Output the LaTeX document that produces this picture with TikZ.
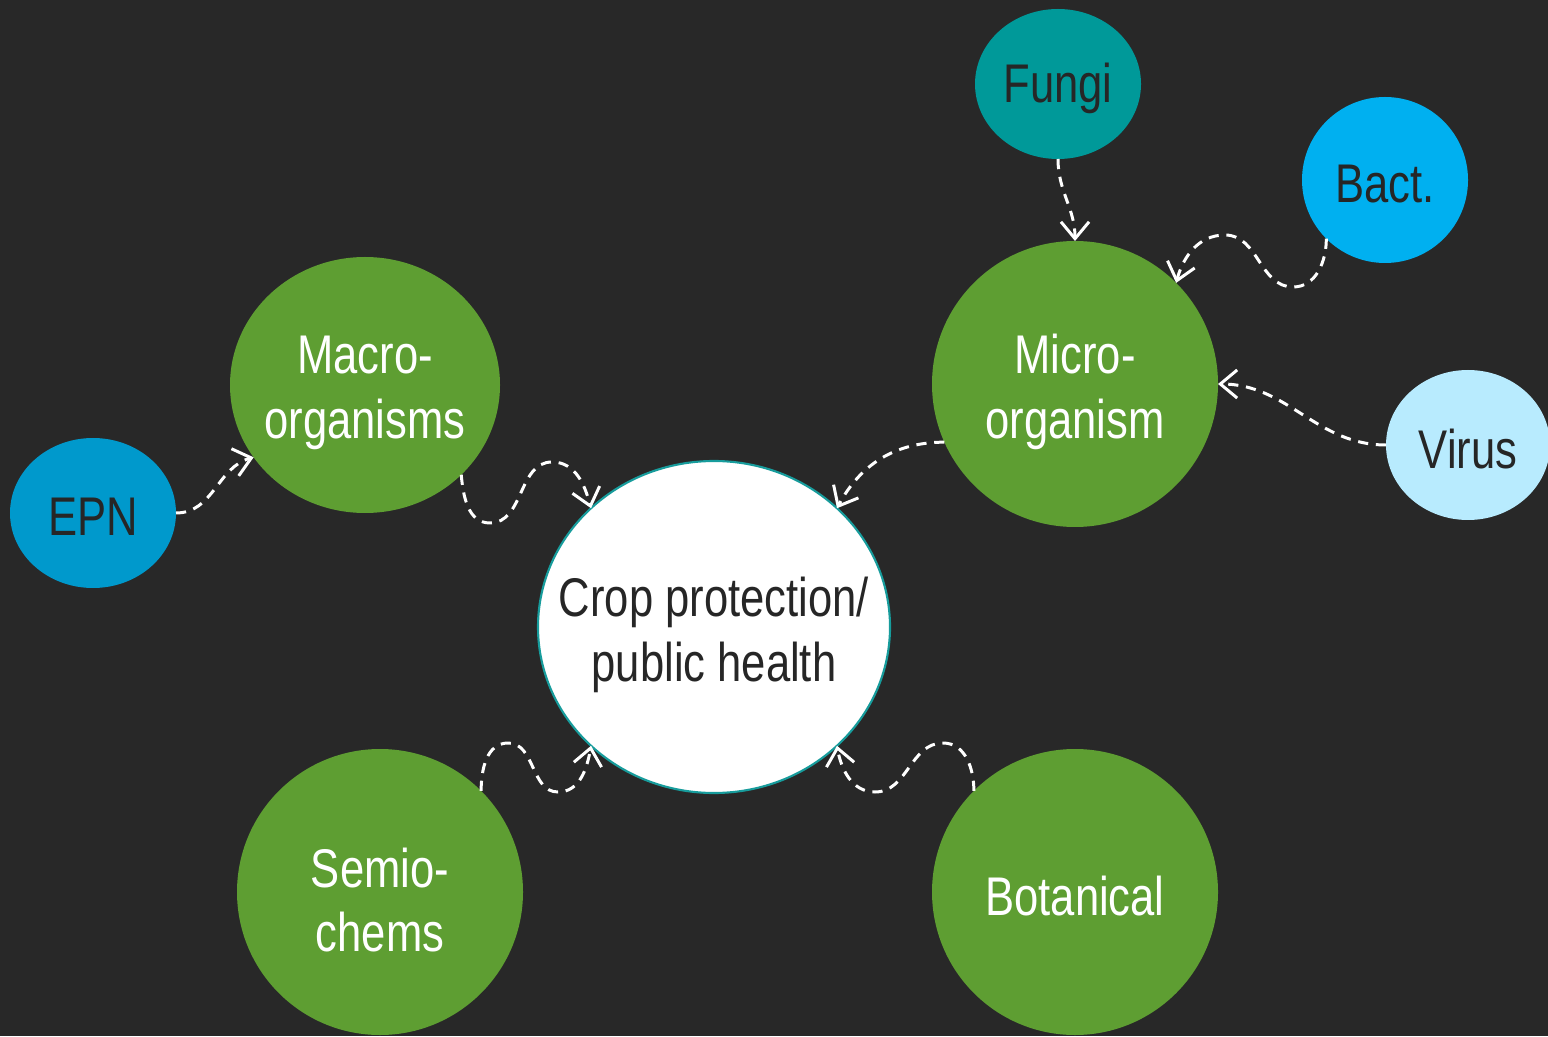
\documentclass[tikz,border=0pt]{standalone}
\usepackage{fontspec}
\setmainfont{Liberation Sans}[FakeStretch=0.8]
\usetikzlibrary{shapes.geometric,arrows.meta}

\definecolor{bg}{HTML}{282828}
\definecolor{leaf}{HTML}{5E9E32}
\definecolor{fungi}{HTML}{009999}
\definecolor{bact}{HTML}{00B0F0}
\definecolor{virus}{HTML}{B8EBFE}
\definecolor{epn}{HTML}{0099CC}
\definecolor{ink}{HTML}{262626}
\definecolor{rim}{HTML}{179C9C}

\tikzset{
  blob/.style={ellipse, draw=none, inner sep=0pt, outer sep=0pt},
  lbl/.style={font=\fontsize{15.5pt}{18.3pt}\selectfont, align=center, text=#1,
    inner sep=0pt, yshift=-0.04cm},
  two/.style={yshift=-0.04cm},
  link/.style={draw=white, line width=0.85pt, dash pattern=on 2.9pt off 2.2pt,
    -{Straight Barb[length=4.8pt,width=8pt]}}
}

\begin{document}
\begin{tikzpicture}
  % canvas
  \fill[bg] (0,0) rectangle (15.48,10.36);
  \useasboundingbox (0,0) rectangle (15.48,10.36);

  % hub
  \node[blob, fill=white, draw=rim, line width=0.6pt,
        minimum width=3.52cm, minimum height=3.32cm,
        label={[lbl=ink,two]center:Crop protection/\\public health}] (hub) at (7.14,4.09) {};

  % main groups
  \node[blob, fill=leaf, minimum width=2.70cm, minimum height=2.56cm,
        label={[lbl=white,two]center:Macro-\\organisms}] (macro) at (3.65,6.51) {};
  \node[blob, fill=leaf, minimum width=2.86cm, minimum height=2.86cm,
        label={[lbl=white,two]center:Micro-\\organism}] (micro) at (10.75,6.52) {};
  \node[blob, fill=leaf, minimum width=2.86cm, minimum height=2.86cm,
        label={[lbl=white,two]center:Semio-\\chems}] (semio) at (3.80,1.44) {};
  \node[blob, fill=leaf, minimum width=2.86cm, minimum height=2.86cm,
        label={[lbl=white]center:Botanical}] (bot) at (10.75,1.44) {};

  % sub groups
  \node[blob, fill=fungi, minimum width=1.66cm, minimum height=1.50cm,
        label={[lbl=ink]center:Fungi}] (fungi) at (10.58,9.52) {};
  \node[blob, fill=bact, minimum width=1.66cm, minimum height=1.66cm,
        label={[lbl=ink]center:Bact.}] (bact) at (13.85,8.56) {};
  \node[blob, fill=virus, minimum width=1.64cm, minimum height=1.50cm,
        label={[lbl=ink]center:Virus}] (virus) at (14.68,5.91) {};
  \node[blob, fill=epn, minimum width=1.66cm, minimum height=1.50cm,
        label={[lbl=ink]center:EPN}] (epn) at (0.93,5.23) {};

  % connectors
  \draw[link] (epn.east) to[out=0,in=195] (macro.213);
  \draw[link] (macro.-43) to[out=-85,in=180] (4.90,5.13)
              to[out=0,in=180] (5.52,5.74) to[out=0,in=105] (hub.136);
  \draw[link] (semio.45) to[out=90,in=180] (5.08,2.93)
              to[out=0,in=180] (5.58,2.44) to[out=0,in=-100] (hub.224);
  \draw[link] (bot.135) to[out=90,in=0] (9.43,2.93)
              to[out=180,in=0] (8.75,2.44) to[out=180,in=-80] (hub.-44);
  \draw[link] (micro.204) to[out=180,in=62] (hub.44);
  \draw[link] (fungi.south) to[out=-90,in=90] (micro.north);
  \draw[link] (bact.225) to[out=-90,in=0] (12.93,7.49)
              to[out=180,in=0] (12.25,8.01) to[out=180,in=75] (micro.45);
  \draw[link] (virus.west) to[out=180,in=0] (micro.east);
\end{tikzpicture}
\end{document}
